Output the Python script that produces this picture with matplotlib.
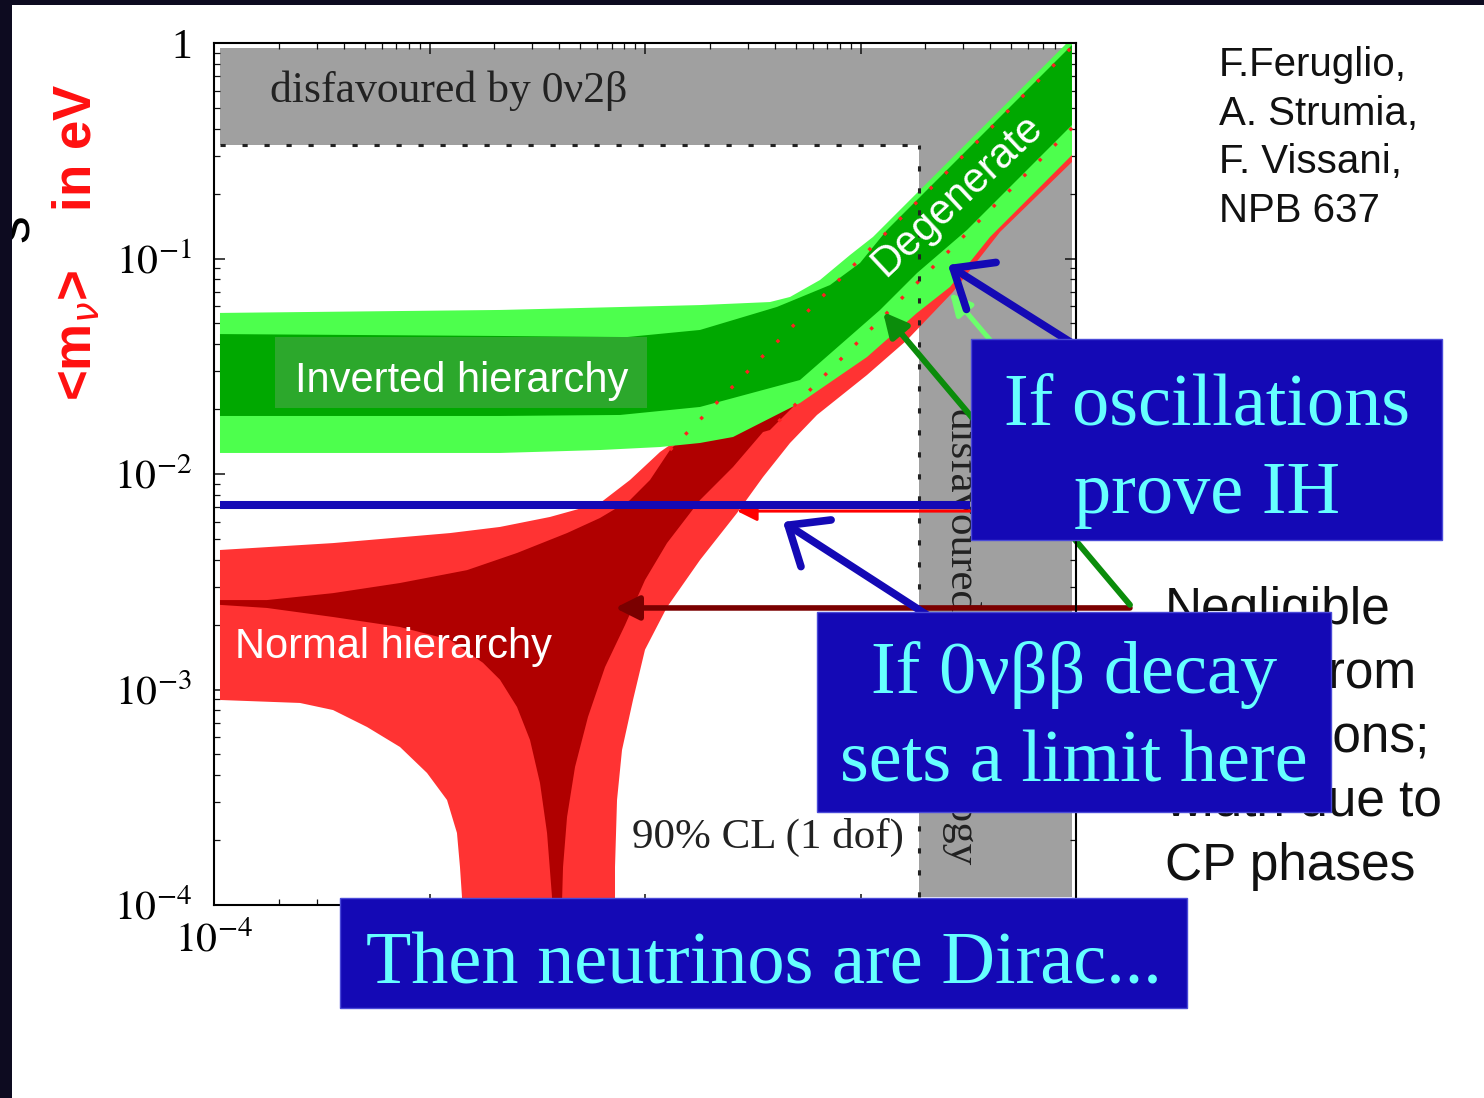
import numpy as np
import matplotlib.pyplot as plt
from matplotlib.patches import Rectangle
from matplotlib.ticker import LogLocator, NullFormatter

plt.rcParams['font.family'] = 'Liberation Sans'
plt.rcParams['mathtext.fontset'] = 'stix'

W, H = 1484, 1098

# effective Majorana mass <m_nu> (eV) against the lightest neutrino mass (eV)
# inverted hierarchy: outer band and best-fit band, upper and lower edges
ih_outer_top_x = [1.066e-4, 2.124e-3, 1.80e-2, 3.80e-2, 4.71e-2, 6.49e-2, 8.94e-2, 0.1143, 0.958]
ih_outer_top_y = [0.0559, 0.0577, 0.0608, 0.0628, 0.0663, 0.0795, 0.1038, 0.1259, 1.055]
ih_outer_bot_x = [1.066e-4, 2.124e-3, 6.182e-3, 1.174e-2, 1.80e-2, 2.562e-2, 5.24e-2, 0.1072,
                  0.1829, 0.2602, 0.3991, 0.958]
ih_outer_bot_y = [0.01252, 0.01252, 0.01292, 0.01334, 0.01393, 0.01485, 0.02136, 0.0349,
                  0.0559, 0.0738, 0.1259, 0.3022]
ih_inner_top_x = [1.066e-4, 2.124e-3, 8.25e-3, 1.80e-2, 4.097e-2, 7.22e-2, 9.947e-2, 0.1327, 0.958]
ih_inner_top_y = [0.0446, 0.0437, 0.0432, 0.0466, 0.0596, 0.0753, 0.0953, 0.1356, 0.979]
ih_inner_bot_x = [1.066e-4, 2.124e-3, 7.66e-3, 1.80e-2, 5.24e-2, 0.1232, 0.1829, 0.312, 0.958]
ih_inner_bot_y = [0.01859, 0.01859, 0.01879, 0.02047, 0.0273, 0.0577, 0.0856, 0.1356, 0.4164]

# normal hierarchy: closed outlines (the funnel runs below the plotted range)
nh_outer_x = [1.066e-4, 3.567e-4, 1.245e-3, 2.124e-3, 3.625e-3, 6.182e-3, 8.519e-3, 1.174e-2,
              3.528e-2, 0.1072, 0.958,
              0.958, 0.4439, 0.2686, 0.1643, 0.1072, 6.282e-2, 4.71e-2, 3.528e-2, 2.673e-2,
              1.80e-2, 1.265e-2, 1.0e-2, 8.796e-3, 7.822e-3, 7.416e-3, 7.258e-3, 7.258e-3,
              1.415e-3, 1.415e-3, 1.385e-3, 1.341e-3, 1.206e-3, 9.736e-4, 7.297e-4, 5.129e-4,
              3.567e-4, 2.507e-4, 1.066e-4]
nh_outer_y = [0.00444, 0.00478, 0.00532, 0.00568, 0.00632, 0.00733, 0.00938, 0.01265,
              0.0273, 0.1038, 0.958,
              0.2805, 0.1327, 0.0699, 0.0418, 0.0288, 0.01879, 0.01393, 0.00968, 0.00659,
              0.00399, 0.00241, 0.00153, 8.94e-4, 5.24e-4, 3.07e-4, 1.50e-4, 5e-5,
              5e-5, 1.09e-4, 1.50e-4, 2.16e-4, 3.07e-4, 4.10e-4, 5.41e-4, 6.70e-4,
              8.03e-4, 8.66e-4, 8.94e-4]
nh_inner_x = [1.066e-4, 1.761e-4, 3.567e-4, 7.297e-4, 1.493e-3, 2.547e-3, 4.347e-3, 6.182e-3,
              8.519e-3, 1.055e-2, 1.306e-2, 3.528e-2, 0.958,
              0.958, 3.80e-2, 3.528e-2, 2.562e-2, 1.80e-2, 1.265e-2, 1.0e-2, 8.076e-3, 6.522e-3,
              5.438e-3, 4.734e-3, 4.347e-3, 4.165e-3, 4.034e-3,
              3.703e-3, 3.703e-3, 3.511e-3, 3.257e-3, 2.927e-3, 2.547e-3, 2.124e-3, 1.771e-3,
              1.245e-3, 7.297e-4, 3.567e-4, 1.761e-4, 1.066e-4]
nh_inner_y = [0.00260, 0.00260, 0.00280, 0.00312, 0.00358, 0.00430, 0.00532, 0.00625,
              0.00757, 0.00938, 0.01292, 0.0353, 0.958,
              0.4033, 0.0160, 0.01566, 0.01078, 0.00757, 0.00478, 0.00322, 0.00199, 0.00127,
              7.46e-4, 4.37e-4, 2.56e-4, 1.50e-4, 5e-5,
              5e-5, 1.09e-4, 2.16e-4, 3.68e-4, 5.83e-4, 8.30e-4, 1.11e-3, 1.33e-3,
              1.70e-3, 1.95e-3, 2.17e-3, 2.39e-3, 2.47e-3]

# excluded regions
nu2beta_limit = 0.336      # <m_nu> above this is disfavoured by 0v2b
cosmo_limit = 0.187        # lightest mass above this is disfavoured by cosmology
region_x = (1.066e-4, 0.958)
region_y = (1.09e-4, 0.948)

# annotation levels (eV)
future_limit = 0.00718
nh_marker = 0.00673
nh_floor = 0.00239

ticks = [1e-4, 1e-3, 1e-2, 1e-1, 1]
y_tick_labels = [r'$10^{-4}$', r'$10^{-3}$', r'$10^{-2}$', r'$10^{-1}$', '1']
# the remaining x labels sit under the bottom message box
x_tick_labels = [r'$10^{-4}$', '', '', '', '']

c_gray = '#a0a0a0'
c_lgreen, c_dgreen = '#4dff4d', '#00a800'
c_lred, c_dred = '#ff3333', '#b00000'
c_box, c_boxtext = '#1409b5', '#66ffff'


def fig_xy(px, py):
    return px / W, 1 - py / H


fig = plt.figure(figsize=(W / 100, H / 100), dpi=100, facecolor='white')
ax = fig.add_axes([214 / W, 1 - 905 / H, 862 / W, 862 / H])
ax.set_xscale('log')
ax.set_yscale('log')
ax.set_xlim(1e-4, 1)
ax.set_ylim(1e-4, 1)

# grey excluded regions with dotted borders
x0, x1 = region_x
y0, y1 = region_y
ax.fill([x0, x1, x1, x0], [nu2beta_limit, nu2beta_limit, y1, y1], color=c_gray, lw=0, zorder=1)
ax.fill([cosmo_limit, x1, x1, cosmo_limit], [y0, y0, nu2beta_limit, nu2beta_limit],
        color=c_gray, lw=0, zorder=1)

# hierarchy bands
ax.fill(nh_outer_x, nh_outer_y, color=c_lred, lw=0, zorder=2)
ax.fill(nh_inner_x, nh_inner_y, color=c_dred, lw=0, zorder=2)
ax.fill(ih_outer_top_x + ih_outer_bot_x[::-1], ih_outer_top_y + ih_outer_bot_y[::-1],
        color=c_lgreen, lw=0, zorder=3)
ax.fill(ih_inner_top_x + ih_inner_bot_x[::-1], ih_inner_top_y + ih_inner_bot_y[::-1],
        color=c_dgreen, lw=0, zorder=3)

# normal-hierarchy edges seen through the inverted band
dots = (0, (1.0, 5.5))
ax.plot(nh_inner_x[10:13], nh_inner_y[10:13], color='#ff2020', lw=2.4, ls=dots, zorder=4)
ax.plot(nh_inner_x[13:15], nh_inner_y[13:15], color='#ff2020', lw=2.4, ls=dots, zorder=4)

ax.plot([x0, cosmo_limit], [nu2beta_limit, nu2beta_limit], color='#222222', lw=2.2,
        ls=(0, (1.7, 5.5)), zorder=4)
ax.plot([cosmo_limit, cosmo_limit], [y0, nu2beta_limit], color='#222222', lw=2.2,
        ls=(0, (1.7, 5.5)), zorder=4)

# labels inside the plot
ax.text(0.065, 0.9316, 'disfavoured by 0ν2β', transform=ax.transAxes, fontsize=31.5,
        family='Liberation Serif', color='#222222', va='baseline', zorder=5)
ax.text(0.4849, 0.0661, '90% CL (1 dof)', transform=ax.transAxes, fontsize=31,
        family='Liberation Serif', color='#222222', va='baseline', zorder=5)
ax.text(0.8666, 0.3121, 'disfavoured by cosmology', transform=ax.transAxes, fontsize=31,
        family='Liberation Serif', color='#222222', rotation=-90, ha='center', va='center',
        zorder=5)
ax.add_patch(Rectangle((0.0708, 0.5766), 0.4316, 0.0824, transform=ax.transAxes,
                       color='#2ca82c', lw=0, zorder=5))
ax.text(0.2877, 0.5951, 'Inverted hierarchy', transform=ax.transAxes, fontsize=30,
        color='white', ha='center', va='baseline', zorder=6)
ax.text(0.0244, 0.2865, 'Normal hierarchy', transform=ax.transAxes, fontsize=30,
        color='white', ha='left', va='baseline', zorder=6)
ax.text(0.862, 0.8237, 'Degenerate', transform=ax.transAxes, fontsize=30, color='white',
        rotation=43, ha='center', va='center', zorder=6)

# arrows and the sensitivity line
ax.annotate('', xy=(2.673e-2, nh_marker), xytext=(0.322, nh_marker),
            arrowprops=dict(arrowstyle='-|>', color='#ff0000', lw=2.2, mutation_scale=30,
                            shrinkA=0, shrinkB=0), zorder=7)
ax.plot([x0, 0.322], [future_limit, future_limit], color=c_box, lw=5.8,
        solid_capstyle='butt', zorder=8)
ax.annotate('', xy=(7.258e-3, nh_floor), xytext=(1.78, nh_floor), annotation_clip=False,
            arrowprops=dict(arrowstyle='-|>', color='#7a0000', lw=4, mutation_scale=36,
                            shrinkA=0, shrinkB=0), zorder=7)
ax.annotate('', xy=(0.1272, 0.0565), xytext=(1.78, 0.00247), annotation_clip=False,
            arrowprops=dict(arrowstyle='-|>', color='#0b8c0b', lw=4.3, mutation_scale=36,
                            shrinkA=0, shrinkB=0), zorder=7)
ax.annotate('', xy=(0.2602, 0.0692), xytext=(0.908, 0.016), annotation_clip=False,
            arrowprops=dict(arrowstyle='-|>', color='#6cff6c', lw=3.6, mutation_scale=32,
                            shrinkA=0, shrinkB=0), zorder=7)
blue_head = '->,head_length=0.6,head_width=0.5'
ax.annotate('', xy=(0.2547, 0.0933), xytext=(0.9895, 0.0397), annotation_clip=False,
            arrowprops=dict(arrowstyle=blue_head, color=c_box, lw=5.5, mutation_scale=40,
                            shrinkA=0, shrinkB=0, capstyle='round', joinstyle='round'),
            zorder=9)
ax.annotate('', xy=(0.0437, 0.00599), xytext=(0.2216, 0.0021), annotation_clip=False,
            arrowprops=dict(arrowstyle=blue_head, color=c_box, lw=5.5, mutation_scale=40,
                            shrinkA=0, shrinkB=0, capstyle='round', joinstyle='round'),
            zorder=9)

# axes frame and ticks
ax.set_xticks(ticks, labels=x_tick_labels)
ax.set_yticks(ticks, labels=y_tick_labels)
for axis in (ax.xaxis, ax.yaxis):
    axis.set_minor_locator(LogLocator(base=10, subs=np.arange(2, 10)))
    axis.set_minor_formatter(NullFormatter())
ax.tick_params(which='both', direction='in', top=True, right=True, color='#111111',
               labelsize=30, labelfontfamily='Liberation Serif')
ax.tick_params(which='major', length=8, width=1.1)
ax.tick_params(which='minor', length=4, width=0.9)
ax.tick_params(axis='x', which='major', pad=12)
ax.tick_params(axis='y', which='major', pad=16)
for s in ax.spines.values():
    s.set_linewidth(1.5)
    s.set_zorder(10)

# axis title and side notes
fig.text(*fig_xy(76, 242), r'<m$_{\nu}$>    in eV', rotation=90, color='#ff1010', fontsize=38,
         fontweight='bold', ha='center', va='center', math_fontfamily='dejavusans')
fig.text(*fig_xy(15, 228), 's', rotation=90, fontsize=40, color='black', ha='center',
         va='center', zorder=19)

for i, line in enumerate(['F.Feruglio,', 'A. Strumia,', 'F. Vissani,', 'NPB 637']):
    fig.text(*fig_xy(1219, 76 + 48.7 * i), line, fontsize=29, color='#111111', va='baseline')
for i, line in enumerate(['Negligible', 'errors from', 'oscillations;', 'width due to',
                          'CP phases']):
    fig.text(*fig_xy(1165, 624 + 64 * i), line, fontsize=37, color='#111111', va='baseline')

# message boxes
boxes = [
    ((971, 339, 1442, 540), ['If oscillations', 'prove IH'], 424),
    ((817, 612, 1331, 812), ['If 0νββ decay', 'sets a limit here'], 693),
    ((340, 898, 1187, 1008), ['Then neutrinos are Dirac...'], 983),
]
for (bx0, by0, bx1, by1), lines, base in boxes:
    fig.add_artist(Rectangle((bx0 / W, 1 - by1 / H), (bx1 - bx0) / W, (by1 - by0) / H,
                             transform=fig.transFigure, facecolor=c_box, edgecolor='#4a4ad8',
                             lw=1, zorder=10))
    for i, line in enumerate(lines):
        fig.text(*fig_xy((bx0 + bx1) / 2, base + 89 * i), line, fontsize=53.5,
                 family='Liberation Serif', color=c_boxtext, ha='center', va='baseline',
                 zorder=11)

# dark slide border
fig.add_artist(Rectangle((0, 0), 12 / W, 1, transform=fig.transFigure, color='#0d0b20',
                         lw=0, zorder=20))
fig.add_artist(Rectangle((0, 1 - 5 / H), 1, 5 / H, transform=fig.transFigure,
                         color='#0d0b20', lw=0, zorder=20))

fig.savefig('out.png', dpi=100, facecolor='white')
